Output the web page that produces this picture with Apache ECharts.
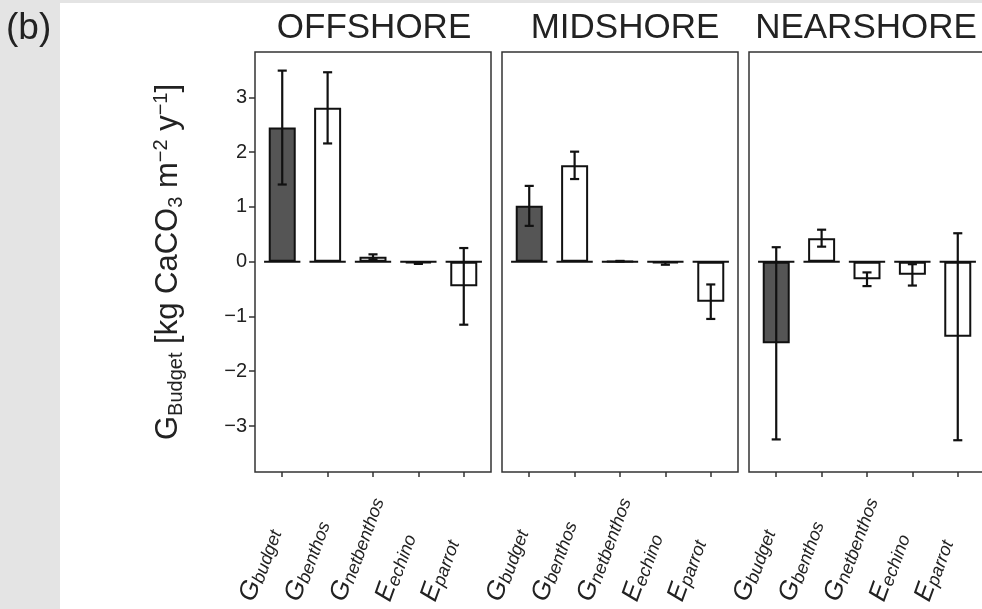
<!DOCTYPE html>
<html><head><meta charset="utf-8">
<script src="https://cdn.jsdelivr.net/npm/echarts@6/dist/echarts.min.js"></script>
<style>
html,body{margin:0;padding:0;background:#e4e4e4;overflow:hidden;}
#bg{position:absolute;left:60px;top:3px;right:0;bottom:0;background:#fff;}
#chart{position:absolute;left:0;top:0;width:982px;height:609px;}
</style></head><body>
<div id="bg"></div><div id="chart"></div>
<script>
// ---- data ----
const regions = ['OFFSHORE', 'MIDSHORE', 'NEARSHORE'];
const categories = ['Gbudget', 'Gbenthos', 'Gnetbenthos', 'Eechino', 'Eparrot'];
const labelMain = ['G', 'G', 'G', 'E', 'E'];
const labelSub = ['budget', 'benthos', 'netbenthos', 'echino', 'parrot'];
const offshoreValues = [2.45, 2.81, 0.09, -0.03, -0.45];
const offshoreErrors = [1.04, 0.65, 0.045, 0.01, 0.70];
const midshoreValues = [1.02, 1.76, 0.01, -0.03, -0.73];
const midshoreErrors = [0.365, 0.25, 0.005, 0.025, 0.315];
const nearshoreValues = [-1.49, 0.43, -0.32, -0.24, -1.37];
const nearshoreErrors = [1.755, 0.155, 0.125, 0.195, 1.89];
const yTicks = [-3, -2, -1, 0, 1, 2, 3];

const valuesByRegion = [offshoreValues, midshoreValues, nearshoreValues];
const errorsByRegion = [offshoreErrors, midshoreErrors, nearshoreErrors];

// ---- layout / style ----
const FONT = '"Liberation Sans", Arial, sans-serif';
const TXT = '#222';
const gridLefts = [255, 502, 749];
const gridWidth = 236;
const gridTop = 52;
const gridHeight = 420;
const titleCenters = [374, 625, 866];
const catIdx = categories.map((c, i) => i);

const chart = echarts.init(document.getElementById('chart'), null, {renderer: 'canvas'});

const grids = [], xAxes = [], yAxes = [], series = [], graphics = [];

regions.forEach((r, p) => {
  grids.push({
    left: gridLefts[p], top: gridTop, width: gridWidth, height: gridHeight,
    show: true, borderColor: '#333', borderWidth: 1.5, backgroundColor: 'transparent',
    containLabel: false, outerBoundsMode: 'none'
  });
  xAxes.push({
    type: 'value', gridIndex: p, min: -0.6, max: 4.6, position: 'bottom',
    splitLine: {show: false},
    axisLine: {show: false, onZero: false},
    axisTick: {show: true, customValues: catIdx, length: 5, lineStyle: {color: '#333', width: 1.5}},
    axisLabel: {
      show: true, customValues: catIdx, rotate: 70, align: 'left', verticalAlign: 'bottom',
      margin: 141, padding: [0, 0, 24, 0],
      formatter: v => '{m|' + labelMain[Math.round(v)] + '}{s|' + labelSub[Math.round(v)] + '}',
      rich: {
        m: {fontSize: 26, fontStyle: 'italic', fontFamily: FONT, color: TXT},
        s: {fontSize: 18, fontStyle: 'italic', fontFamily: FONT, color: TXT, padding: [9, 0, 0, 0]}
      }
    }
  });
  const yAx = {
    type: 'value', gridIndex: p, min: -3.84, max: 3.83, position: 'left',
    splitLine: {show: false},
    axisLine: {show: false, onZero: false},
    axisTick: {show: p === 0, customValues: yTicks, length: 6, lineStyle: {color: '#333', width: 1.5}},
    axisLabel: {
      show: p === 0, customValues: yTicks, margin: 8, fontSize: 20, fontFamily: FONT, color: TXT,
      formatter: v => (v < 0 ? '\u2212' + Math.abs(v) : String(v))
    }
  };
  if (p === 0) {
    yAx.name = '{m|G}{s|Budget}{m| [kg CaCO}{s|3}{m| m}{p|\u22122}{m| y}{p|\u22121}{m|]}';
    yAx.nameLocation = 'middle';
    yAx.nameRotate = 90;
    yAx.nameGap = 69;
    yAx.nameTextStyle = {
      rich: {
        m: {fontSize: 31, fontFamily: FONT, color: TXT},
        s: {fontSize: 20, fontFamily: FONT, color: TXT, padding: [15, 0, 0, 0]},
        p: {fontSize: 20, fontFamily: FONT, color: TXT, padding: [0, 0, 14, 0]}
      }
    };
  }
  yAxes.push(yAx);

  const vals = valuesByRegion[p];
  const errs = errorsByRegion[p];

  // zero baseline segments
  series.push({
    type: 'custom', xAxisIndex: p, yAxisIndex: p, z: 1, silent: true,
    data: catIdx.map(i => [i, 0]),
    encode: {x: 0, y: 1},
    renderItem: (params, api) => {
      const x = api.value(0);
      const a = api.coord([x - 0.4, 0]);
      const b = api.coord([x + 0.4, 0]);
      return {type: 'line', shape: {x1: a[0], y1: a[1], x2: b[0], y2: b[1]},
        style: {stroke: '#111', lineWidth: 2}};
    }
  });
  // bars
  series.push({
    type: 'bar', xAxisIndex: p, yAxisIndex: p, z: 2, barWidth: 27,
    data: vals.map((v, i) => ({
      value: [i, v],
      itemStyle: {color: i === 0 ? '#555555' : '#ffffff'}
    })),
    itemStyle: {borderColor: '#111', borderWidth: 2},
    silent: true
  });
  // error bars
  series.push({
    type: 'custom', xAxisIndex: p, yAxisIndex: p, z: 3, silent: true,
    data: vals.map((v, i) => [i, v - errs[i], v + errs[i]]),
    encode: {x: 0, y: [1, 2]},
    renderItem: (params, api) => {
      const x = api.value(0);
      const lo = api.coord([x, api.value(1)]);
      const hi = api.coord([x, api.value(2)]);
      const cl = api.coord([x - 0.1, 0])[0];
      const cr = api.coord([x + 0.1, 0])[0];
      const st = {stroke: '#111', lineWidth: 2.2};
      return {type: 'group', children: [
        {type: 'line', shape: {x1: lo[0], y1: lo[1], x2: hi[0], y2: hi[1]}, style: st},
        {type: 'line', shape: {x1: cl, y1: lo[1], x2: cr, y2: lo[1]}, style: st},
        {type: 'line', shape: {x1: cl, y1: hi[1], x2: cr, y2: hi[1]}, style: st}
      ]};
    }
  });

  graphics.push({
    type: 'text', x: titleCenters[p], y: 28,
    style: {text: r, align: 'center', verticalAlign: 'middle', fontSize: 35, fontFamily: FONT, fill: TXT}
  });
});

graphics.push({
  type: 'text', x: 6, y: 29,
  style: {text: '(b)', align: 'left', verticalAlign: 'middle', fontSize: 37, fontFamily: FONT, fill: TXT}
});

chart.setOption({
  animation: false,
  grid: grids,
  xAxis: xAxes,
  yAxis: yAxes,
  series: series,
  graphic: graphics
});
</script>
</body></html>
